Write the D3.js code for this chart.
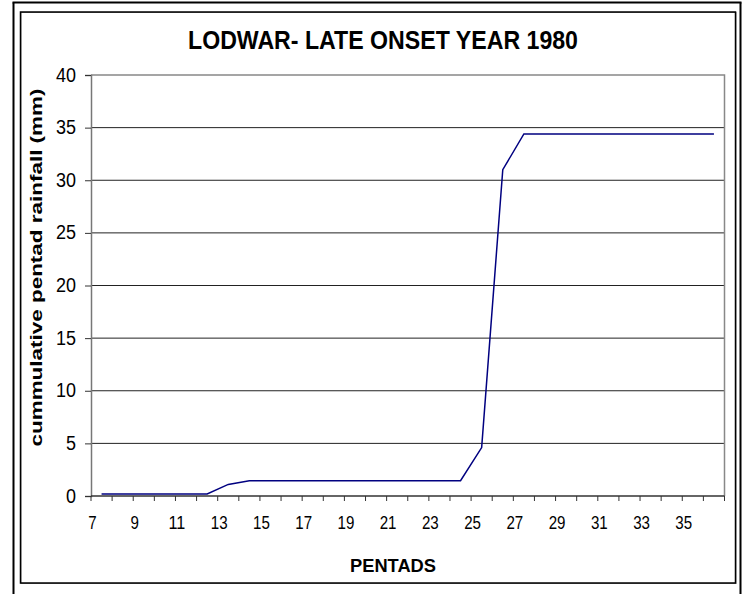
<!DOCTYPE html>
<html lang="en">
    <head>
        <meta charset="utf-8">
        <title>Lodwar late onset 1980</title>
        <script type="text/javascript" src="https://d3js.org/d3.v7.min.js"></script>
        <style type="text/css">
            body { margin: 0; background: #fff; }
            text { font-family: Arial, "Liberation Sans", sans-serif; }
        </style>
    </head>
    <body>
        <script type="text/javascript">
        // pentad numbers on the category axis
        var pentads = [7, 8, 9, 10, 11, 12, 13, 14, 15, 16, 17, 18, 19, 20, 21,
                       22, 23, 24, 25, 26, 27, 28, 29, 30, 31, 32, 33, 34, 35, 36];
        // cumulative pentad rainfall (mm)
        var rainfall = [0.2, 0.2, 0.2, 0.2, 0.2, 0.2, 1.1, 1.45, 1.45, 1.45,
                        1.45, 1.45, 1.45, 1.45, 1.45, 1.45, 1.45, 1.45, 4.6, 31,
                        34.4, 34.4, 34.4, 34.4, 34.4, 34.4, 34.4, 34.4, 34.4, 34.4];
        var yTicks = [0, 5, 10, 15, 20, 25, 30, 35, 40];
        var xLabels = [7, 9, 11, 13, 15, 17, 19, 21, 23, 25, 27, 29, 31, 33, 35];

        var w = 746;
        var h = 594;
        // plot area edges ("top" is taken by window.top, so prefix them)
        var pLeft = 91, pRight = 724.5, pTop = 75, pBottom = 496;

        var svg = d3.select("body")
                    .append("svg")
                    .attr("width", w)
                    .attr("height", h);

        // outer frame and chart area border
        svg.append("line")
           .attr("x1", 13.5).attr("y1", 2.5).attr("x2", 13.5).attr("y2", h)
           .attr("stroke", "#000").attr("stroke-width", 2);
        svg.append("line")
           .attr("x1", 740.5).attr("y1", 2.5).attr("x2", 740.5).attr("y2", h)
           .attr("stroke", "#000").attr("stroke-width", 2);
        svg.append("line")
           .attr("x1", 12.5).attr("y1", 2.5).attr("x2", 741.5).attr("y2", 2.5)
           .attr("stroke", "#000").attr("stroke-width", 2);
        svg.append("rect")
           .attr("x", 21).attr("y", 12.5)
           .attr("width", 715).attr("height", 571)
           .attr("fill", "none")
           .attr("stroke", "#888").attr("stroke-width", 1);
        svg.append("rect")
           .attr("x", 20.5).attr("y", 12)
           .attr("width", 715).attr("height", 571)
           .attr("fill", "none")
           .attr("stroke", "#000").attr("stroke-width", 1.5);

        var x = d3.scaleBand()
                  .domain(pentads)
                  .range([pLeft, pRight])
                  .paddingInner(0)
                  .paddingOuter(0);

        var y = d3.scaleLinear()
                  .domain([0, 40])
                  .range([pBottom, pTop]);

        // gridlines
        svg.selectAll("line.grid")
           .data(yTicks.filter(function(d) { return d > 0 && d < 40; }))
           .enter()
           .append("line")
           .attr("class", "grid")
           .attr("x1", pLeft).attr("x2", pRight)
           .attr("y1", function(d) { return y(d); })
           .attr("y2", function(d) { return y(d); })
           .attr("stroke", "#222")
           .attr("stroke-width", 1);

        // plot area top and right edges
        svg.append("path")
           .attr("d", "M" + pLeft + "," + y(40) + "H" + pRight + "V" + pBottom)
           .attr("fill", "none")
           .attr("stroke", "#888")
           .attr("stroke-width", 1.5);

        // y axis
        var yAxis = d3.axisLeft(y)
                      .tickValues(yTicks)
                      .tickSize(6)
                      .tickPadding(9);
        var gy = svg.append("g")
                    .attr("transform", "translate(" + pLeft + ",0)")
                    .call(yAxis);
        gy.select(".domain").attr("stroke", "#777").attr("stroke-width", 1.5);
        gy.selectAll(".tick line").attr("stroke", "#333");
        gy.selectAll(".tick text")
          .attr("font-size", "20px")
          .attr("font-family", "Arial, 'Liberation Sans', sans-serif")
          .attr("fill", "#000")
          .attr("dy", "0.3em")
          .attr("textLength", function(d) { return String(d).length * 10; })
          .attr("lengthAdjust", "spacingAndGlyphs");

        // x axis: ticks at category boundaries
        var gx = svg.append("g")
                    .attr("transform", "translate(0," + pBottom + ")");
        gx.append("line")
          .attr("x1", pLeft).attr("x2", pRight)
          .attr("stroke", "#333").attr("stroke-width", 1.5);
        gx.selectAll("line.tk")
          .data(pentads.concat(["end"]))
          .enter()
          .append("line")
          .attr("class", "tk")
          .attr("x1", function(d) { return d === "end" ? pRight : x(d); })
          .attr("x2", function(d) { return d === "end" ? pRight : x(d); })
          .attr("y1", 0).attr("y2", 5)
          .attr("stroke", "#333");
        gx.selectAll("text")
          .data(xLabels)
          .enter()
          .append("text")
          .text(function(d) { return d; })
          .attr("x", function(d) { return x(d) + 1.5; })
          .attr("y", 33)
          .attr("text-anchor", "middle")
          .attr("font-size", "17.5px")
          .attr("fill", "#000")
          .attr("textLength", function(d) { return String(d).length * 8.4; })
          .attr("lengthAdjust", "spacingAndGlyphs");

        // data line
        var line = d3.line()
                     .x(function(d, i) { return x(pentads[i]) + x.bandwidth() / 2; })
                     .y(function(d) { return y(d); });
        svg.append("path")
           .datum(rainfall)
           .attr("d", line)
           .attr("fill", "none")
           .attr("stroke", "#000080")
           .attr("stroke-width", 1.5);

        // titles
        svg.append("text")
           .text("LODWAR- LATE ONSET YEAR 1980")
           .attr("x", 383).attr("y", 48.5)
           .attr("text-anchor", "middle")
           .attr("font-size", "25px")
           .attr("font-weight", "bold")
           .attr("textLength", 390)
           .attr("lengthAdjust", "spacingAndGlyphs");

        svg.append("text")
           .text("PENTADS")
           .attr("x", 393).attr("y", 572)
           .attr("text-anchor", "middle")
           .attr("font-size", "18px")
           .attr("font-weight", "bold")
           .attr("textLength", 86)
           .attr("lengthAdjust", "spacingAndGlyphs");

        svg.append("text")
           .text("cummulative pentad rainfall (mm)")
           .attr("transform", "translate(42,267.5) rotate(-90)")
           .attr("text-anchor", "middle")
           .attr("font-size", "17px")
           .attr("font-weight", "bold")
           .attr("textLength", 358)
           .attr("lengthAdjust", "spacingAndGlyphs");
        </script>
    </body>
</html>
